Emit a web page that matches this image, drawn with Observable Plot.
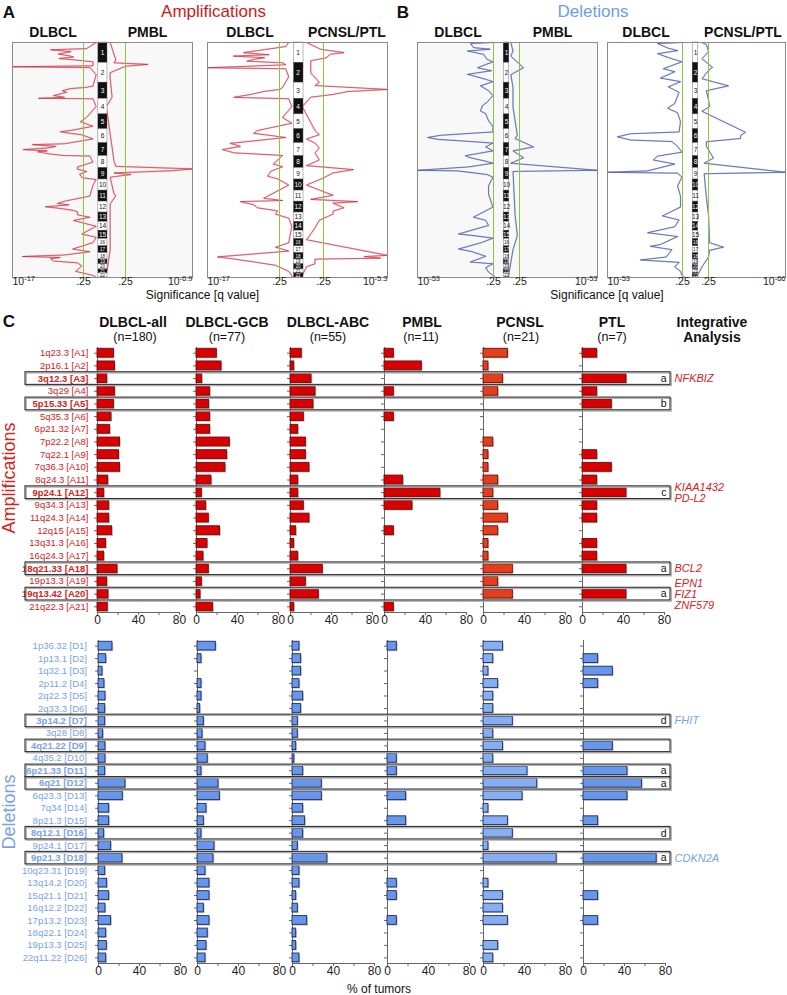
<!DOCTYPE html>
<html><head><meta charset="utf-8">
<script src="https://cdn.jsdelivr.net/npm/d3@7"></script>
<script src="https://cdn.jsdelivr.net/npm/@observablehq/plot@0.6"></script>
<style>
body{margin:0;background:#fff;}
#root{position:relative;width:787px;height:995px;overflow:hidden;background:#fff;font-family:"Liberation Sans",Arial,Helvetica,sans-serif;}
</style></head><body><div id="root"></div><script>
// ---------------- DATA ----------------
const chromNames = ["1","2","3","4","5","6","7","8","9","10","11","12","13","14","15","16","17","18","19","20","21","22"];
const chromLengths = [249,243,198,191,181,171,159,146,141,136,135,134,115,107,102,90,83,78,59,63,48,51];

// GISTIC profiles: [chromosome, fraction along chromosome, -log10(q)]
const ampA1_DLBCL = [[1,0.0,0.2],[1,0.3,0.5],[1,0.36,8.2],[1,0.45,3.5],[1,0.5,4.8],[1,0.57,6.4],[1,0.65,4],[1,0.71,2.9],[1,0.79,6.2],[1,0.86,2.5],[1,0.95,0.3],
 [2,0.15,0.3],[2,0.2,17],[2,0.24,0.4],[2,0.6,0.2],
 [3,0.2,0.3],[3,0.29,0.5],[3,0.37,3.6],[3,0.5,5.5],[3,0.6,4.5],[3,0.8,7.5],[3,0.91,5],[3,0.97,11],[3,1,0.3],
 [4,0.5,0.2],[5,0.2,0.5],[5,0.5,1.3],[5,0.8,0.3],
 [6,0.07,3.1],[6,0.19,5.9],[6,0.3,3.6],[6,0.4,1],[6,0.7,0.3],
 [7,0.05,5],[7,0.12,12.4],[7,0.25,7],[7,0.37,8.7],[7,0.5,14.5],[7,0.6,9],[7,0.67,11.2],[7,0.82,8.7],[7,0.95,5.4],[7,1,0.4],
 [8,0.5,0.3],[8,0.92,2],[9,0.1,2],[9,0.3,0.5],[9,0.55,1.5],[9,0.85,0.9],[9,1,0.2],
 [10,0.5,0.3],[11,0.5,0.4],[11,0.95,4.8],
 [12,0.16,6.6],[12,0.3,4],[12,0.47,9.4],[12,0.62,6],[12,0.8,3],[12,0.94,2],
 [13,0.24,2],[13,0.5,0.4],[13,0.85,2.9],[14,0.5,0.2],[15,0.4,1],[15,0.8,0.2],[16,0.5,0.3],
 [17,0.4,3.1],[17,0.8,0.4],[18,0.3,5],[18,0.53,14.7],[18,0.7,6],[18,0.87,8.2],
 [19,0.33,7.5],[19,0.7,2],[20,0.33,1],[21,0.5,2.4],[22,0.5,0.3],[22,1,0.2]];
const ampA1_PMBL = [[1,0.0,0.2],[1,0.86,0.35],[1,1,0.3],[2,0.08,2.7],[2,0.17,0.6],[2,0.5,0.2],[2,0.75,0.2],[3,0.9,0.25],[4,0.5,0.1],
 [8,0.43,0.3],[8,0.86,0.35],[9,0.08,6.9],[9,0.23,5.1],[9,0.43,0.3],[9,0.57,1.1],[9,0.8,0.2],[11,0.3,0.3],[11,0.45,0.35],
 [12,0.2,0.2],[17,0.5,0.2],[22,0.5,0.1],[22,1,0.1]];
const ampA2_DLBCL = [[1,0.0,0.3],[1,0.2,0.4],[1,0.5,8.8],[1,0.6,3],[1,0.67,11.1],[1,0.75,4],[1,0.83,6.5],[1,0.92,8],[1,1,0.5],
 [2,0.1,0.4],[2,0.25,17],[2,0.3,0.4],[2,0.7,0.3],
 [3,0.3,0.5],[3,0.42,0.6],[3,0.55,4.2],[3,0.73,7.2],[3,0.91,11],[3,1,0.3],
 [4,0.5,0.2],[5,0.22,0.5],[5,0.6,0.2],[6,0.1,5.6],[6,0.3,6.5],[6,0.4,3.9],[6,0.6,0.4],
 [7,0.02,11.8],[7,0.25,9.5],[7,0.5,13.6],[7,0.75,11],[7,0.95,0.5],
 [8,0.67,2],[8,0.9,0.5],[9,0.29,2.6],[9,0.71,3.3],[9,0.95,1],[10,0.5,0.3],[11,0.7,4.2],[11,0.9,0.5],
 [12,0.0,9.5],[12,0.29,6.5],[12,0.57,5.6],[12,0.85,1],[13,0.17,1.5],[13,0.6,0.3],[14,0.5,0.2],[16,0.5,0.3],
 [17,0.13,1.5],[17,0.7,0.3],[18,0.6,14.7],[18,0.85,11.8],[19,0.5,6.5],[20,0.2,1.5],[21,0.5,0.3],[22,0.5,0.2],[22,1,0.2]];
const ampA2_PCNSL = [[1,0.0,0.2],[1,0.33,0.53],[1,0.5,2.1],[1,0.58,1.1],[1,0.75,0.8],[1,0.9,0.3],[2,0.5,0.3],[2,0.98,0.5],
 [3,0.18,0.4],[3,0.42,5.3],[3,0.55,2.4],[3,0.73,1.3],[3,0.9,0.3],[4,0.5,0.1],[6,0.1,0.4],[6,0.4,0.5],[6,0.7,0.2],
 [7,0.0,0.4],[7,0.38,0.5],[7,0.75,0.4],[8,0.33,0.5],[8,0.8,0.2],[9,0.14,2.8],[9,0.43,1.3],[9,0.86,0.6],
 [10,0.5,0.2],[11,0.43,1.3],[11,0.8,0.3],[12,0.0,3.1],[12,0.14,1.3],[12,0.57,2.1],[12,0.86,1.3],
 [13,0.17,1.3],[13,0.83,0.5],[14,0.7,0.4],[16,0.1,0.2],[18,0.35,5.3],[18,0.55,3.6],[18,0.8,4.8],[18,0.95,0.4],
 [19,0.9,0.4],[20,0.5,0.2],[22,0.5,0.1],[22,1,0.1]];
const delB1_DLBCL = [[1,0.0,1],[1,0.05,16.5],[1,0.25,14.4],[1,0.33,3],[1,0.42,18.5],[1,0.58,7.5],[1,0.83,5],[1,0.95,1],
 [2,0.25,11.6],[2,0.4,2],[2,0.58,18.5],[2,0.83,6],[2,0.95,1],[3,0.2,9.6],[3,0.5,4],[3,0.8,1],
 [4,0.22,5],[4,0.44,8.2],[4,0.78,9.6],[4,0.95,6],[5,0.44,4],[5,0.8,1],
 [6,0.2,1],[6,0.44,37],[6,0.6,46],[6,0.73,39],[6,0.89,16],[6,1,1],
 [7,0.29,6],[7,0.6,1],[7,0.97,20],[8,0.14,16.5],[8,0.43,6],[8,0.6,1],[8,0.91,18],
 [9,0.2,53],[9,0.25,25.4],[9,0.57,5],[9,0.8,1],[10,0.57,4],[11,0.33,4],[12,0.5,1],
 [13,0.5,14.4],[13,0.83,6],[14,0.4,4],[15,0.4,24.7],[15,0.6,14],[15,0.9,1],[16,0.5,9],
 [17,0.4,24.7],[17,0.75,16],[18,0.5,6],[19,0.53,16.5],[19,0.9,1],[20,0.67,6],[21,0.67,4],[22,0.5,1],[22,1,0.5]];
const delB1_PMBL = [[1,0.0,0.2],[1,0.42,0.3],[1,0.67,0.2],[2,0.25,3.3],[2,0.6,0.2],[3,0.3,0.3],[4,0.55,0.3],[6,0.44,0.5],[6,0.67,0.4],
 [7,0.29,10],[7,0.6,0.3],[8,0.14,3.3],[8,0.6,0.2],[9,0.2,53],[9,0.3,0.3],[13,0.33,0.4],[15,0.6,0.5],[17,0.5,0.3],[22,0.5,0.1],[22,1,0.1]];
const delB2_DLBCL = [[1,0.0,1],[1,0.05,18],[1,0.27,11],[1,0.4,4],[1,0.55,18],[1,0.8,8],[1,0.95,1],
 [2,0.3,14],[2,0.45,6],[2,0.77,16],[2,0.95,2],[3,0.26,10.4],[3,0.6,3],[4,0.3,6],[4,0.6,11],[4,0.9,4],[5,0.5,2],
 [6,0.2,3],[6,0.33,37],[6,0.55,46],[6,0.78,37],[6,0.89,8],[7,0.25,4],[7,0.7,1],
 [8,0.0,18],[8,0.33,21],[8,0.67,6],[9,0.25,25],[9,0.37,53],[9,0.45,4],[9,0.8,1],
 [10,0.57,4],[11,0.5,2],[12,0.5,2],[13,0.36,14.6],[13,0.8,3],[14,0.55,6],[15,0.25,25],[15,0.7,4],
 [16,0.75,16],[16,1,23],[17,0.5,8],[18,0.62,12],[19,0.1,30],[19,0.6,3],[20,0.5,6],[21,0.5,2],[22,0.5,1],[22,1,0.5]];
const delB2_PCNSL = [[1,0.0,0.3],[1,0.1,0.5],[1,0.45,0.7],[1,0.8,0.3],[2,0.23,4],[2,0.38,0.7],[2,0.8,0.3],[3,0.2,17.5],[3,0.5,0.5],
 [4,0.1,0.7],[4,0.5,1.5],[4,0.8,0.3],[6,0.22,32],[6,0.44,28],[6,0.67,27.7],[6,0.9,0.5],[7,0.25,0.5],
 [8,0.17,4.8],[8,0.6,0.4],[9,0.37,66],[9,0.5,0.4],[11,0.57,0.5],[13,0.36,0.7],[16,0.5,1.5],
 [17,0.12,13.3],[17,0.6,1.5],[18,0.6,0.7],[20,0.5,0.3],[22,0.5,0.1],[22,1,0.1]];

// Panel C
const groups = ["DLBCL-all","DLBCL-GCB","DLBCL-ABC","PMBL","PCNSL","PTL"];
const groupN = ["(n=180)","(n=77)","(n=55)","(n=11)","(n=21)","(n=7)"];
const xTickValues = [0,20,40,60,80];
const xTickLabels = [0,40,80];

const ampRegions = ["1q23.3 [A1]","2p16.1 [A2]","3q12.3 [A3]","3q29 [A4]","5p15.33 [A5]","5q35.3 [A6]","6p21.32 [A7]","7p22.2 [A8]","7q22.1 [A9]","7q36.3 [A10]","8q24.3 [A11]","9p24.1 [A12]","9q34.3 [A13]","11q24.3 [A14]","12q15 [A15]","13q31.3 [A16]","16q24.3 [A17]","18q21.33 [A18]","19p13.3 [A19]","19q13.42 [A20]","21q22.3 [A21]"];
const ampDLBCLall = [16,17,9.4,17,16,13.6,12.3,22,21,22,10.4,6.5,11.4,11.4,14.3,8.4,6.5,19.5,9.4,10.7,10];
const ampGCB = [19.8,24.4,5.5,13.3,12.3,13.3,13.3,32.5,29.9,28.2,14.6,5.2,9.4,12,23,10.7,6.8,12,5.2,3.9,16.2];
const ampABC = [11,3.6,20.5,24.4,22.4,13,7.5,15,15,18.5,7.5,7.5,13,18.5,5.5,3.6,7.5,31.5,15,27.6,3.6];
const ampPMBL = [9.1,36.4,0,9.1,0,9.1,0,0,0,0,18.2,54.5,27.3,0,9.1,0,0,0,0,0,9.1];
const ampPCNSL = [23.8,4.8,19,14.3,0,0,0,9.5,4.8,4.8,14.3,9.5,14.3,23.8,14.3,4.8,4.8,28.6,14.3,28.6,0];
const ampPTL = [14.3,0,42.9,14.3,28.6,0,0,0,14.3,28.6,14.3,42.9,14.3,14.3,0,14.3,14.3,42.9,0,42.9,0];
const ampHighlight = ["3q12.3 [A3]","5p15.33 [A5]","9p24.1 [A12]","18q21.33 [A18]","19q13.42 [A20]"];
const ampLetters = ["a","b","c","a","a"];
const ampGenes = ["NFKBIZ","","KIAA1432\nPD-L2","BCL2","EPN1\nFIZ1\nZNF579"];

const delRegions = ["1p36.32 [D1]","1p13.1 [D2]","1q32.1 [D3]","2p11.2 [D4]","2q22.3 [D5]","2q33.3 [D6]","3p14.2 [D7]","3q28 [D8]","4q21.22 [D9]","4q35.2 [D10]","6p21.33 [D11]","6q21 [D12]","6q23.3 [D13]","7q34 [D14]","8p21.3 [D15]","8q12.1 [D16]","9p24.1 [D17]","9p21.3 [D18]","10q23.31 [D19]","13q14.2 [D20]","15q21.1 [D21]","16q12.2 [D22]","17p13.2 [D23]","18q22.1 [D24]","19p13.3 [D25]","22q11.22 [D26]"];
const delDLBCLall = [13.6,7.5,3.9,5.8,6.8,6.5,6.5,4.5,6.8,6.8,6.5,26.3,23.7,10.4,10.4,5.5,12.3,23.4,6.5,8.4,10.4,6.8,12.3,7.5,8.1,7.5];
const delGCB = [17.9,3.9,0,3.9,3.9,2.6,6.2,4.9,7.8,10,3.9,20.5,21.8,8.8,6.2,3.9,16.6,15.6,7.8,11.7,11.7,6.2,11.7,10,8.8,7.8];
const delABC = [6.8,8.4,8.4,6.8,10.4,8.4,5.2,5.2,3.6,1.8,10.4,28.6,28.6,10.4,12.3,10.4,5.2,34,6.8,6.8,3.6,5.2,14.3,3.6,3.6,6.8];
const delPMBL = [9.1,0,0,0,0,0,0,0,0,9.1,9.1,0,18.2,0,18.2,0,0,0,0,9.1,9.1,0,9.1,0,0,0];
const delPCNSL = [19,9.5,4.8,14.3,9.5,9.5,28.6,9.5,19,9.5,42.9,52.4,38.1,4.8,23.8,28.6,4.8,71.4,0,4.8,19,19,23.8,0,14.3,9.5];
const delPTL = [0,14.3,28.6,14.3,0,0,0,0,28.6,0,42.9,57.1,42.9,0,14.3,0,0,71.4,0,0,14.3,0,14.3,0,0,0];
const delHighlight = ["3p14.2 [D7]","4q21.22 [D9]","6p21.33 [D11]","6q21 [D12]","8q12.1 [D16]","9p21.3 [D18]"];
const delLetters = ["d","","a","a","d","a"];
const delGenes = ["FHIT","","","","","CDKN2A"];

// ---------------- RENDER ----------------
const FONT = '"Liberation Sans", Arial, Helvetica, sans-serif';
const root = document.getElementById("root");
const RED = "#d42222", BLUE = "#79a2ea";
const baseStyle = {background:"transparent", overflow:"visible", fontFamily: FONT};

function put(el, left, top){ el.style.position="absolute"; el.style.left=left+"px"; el.style.top=top+"px"; root.appendChild(el); return el; }
function label(text, cx, cy, o={}){
  const d=document.createElement("div"); d.textContent=text;
  Object.assign(d.style,{position:"absolute",left:cx+"px",top:cy+"px",whiteSpace:"pre",lineHeight:"1",
    fontFamily:FONT,fontSize:(o.size||12)+"px",fontWeight:o.bold?"bold":"normal",fontStyle:o.italic?"italic":"normal",
    color:o.color||"#111",transform:"translate(-50%,-50%)"+(o.rotate?` rotate(${o.rotate}deg)`:"")});
  root.appendChild(d);
}

// --- Panels A & B
const chromStart = d3.cumsum([0, ...chromLengths]);
const genomeTotal = d3.sum(chromLengths);
const chromTable = chromNames.map((n,i)=>({name:n, idx:i+1, start:chromStart[i], end:chromStart[i]+chromLengths[i]}));
const gpos = d => chromStart[d[0]-1] + d[1]*chromLengths[d[0]-1];

const gisticLayout = [
  {f0:12,f1:192,g0:83,c:102,g1:125,domain:[-17,-0.6,0,0.6,6.9],bg:"#f8f8f8",oddBlack:true,L:ampA1_DLBCL,R:ampA1_PMBL,color:"#c4122a",under:"#f2a3a8"},
  {f0:207,f1:387,g0:279,c:297.5,g1:323,domain:[-17,-0.6,0,0.6,5.3],bg:"#ffffff",oddBlack:false,L:ampA2_DLBCL,R:ampA2_PCNSL,color:"#c4122a",under:"#f2a3a8"},
  {f0:417,f1:597,g0:493,c:506,g1:519,domain:[-53,-0.6,0,0.6,53],bg:"#f8f8f8",oddBlack:true,L:delB1_DLBCL,R:delB1_PMBL,color:"#28358c",under:"#a9b5e3"},
  {f0:607,f1:785,g0:682,c:695,g1:708,domain:[-53,-0.6,0,0.6,66],bg:"#ffffff",oddBlack:false,L:delB2_DLBCL,R:delB2_PCNSL,color:"#28358c",under:"#a9b5e3"}
];
for (const p of gisticLayout){
  const ml=24, mr=24, mt=6, mb=29, H=270, Wf=p.f1-p.f0;
  const isBlack = d => (d.idx%2===1) === p.oddBlack;
  const lt = {v:p.domain[0], t:"10^"+p.domain[0]};
  const rt = {v:p.domain[4], t:"10^-"+p.domain[4]};
  const mid = [{v:-0.6,t:".25"},{v:0.6,t:".25"}];
  const big = chromTable.filter(d=>d.idx<=15), small = chromTable.filter(d=>d.idx>15);
  const svg = Plot.plot({
    width:Wf+ml+mr, height:H, marginLeft:ml, marginRight:mr, marginTop:mt, marginBottom:mb, style:baseStyle,
    x:{type:"linear", domain:p.domain, range:[ml, ml+p.g0-p.f0, ml+p.c-p.f0, ml+p.g1-p.f0, ml+Wf], axis:null},
    y:{domain:[0,genomeTotal], range:[mt,H-mb], axis:null},
    marks:[
      Plot.frame({fill:p.bg, stroke:"none"}),
      Plot.line(p.L,{x:d=>-d[2], y:gpos, curve:"linear", stroke:p.under, strokeWidth:1.6, strokeOpacity:0.6}),
      Plot.line(p.R,{x:d=>d[2], y:gpos, curve:"linear", stroke:p.under, strokeWidth:1.6, strokeOpacity:0.6}),
      Plot.line(p.L,{x:d=>-d[2], y:gpos, curve:"linear", stroke:p.color, strokeWidth:0.6}),
      Plot.line(p.R,{x:d=>d[2], y:gpos, curve:"linear", stroke:p.color, strokeWidth:0.6}),
      Plot.ruleX([-0.6,0.6],{stroke:"#8cc63f", strokeWidth:1}),
      Plot.rect(chromTable,{x1:-0.13, x2:0.13, y1:"start", y2:"end", fill:d=>isBlack(d)?"#111":"#fff", stroke:"#555", strokeWidth:0.4}),
      Plot.text(big,{x:0, y:d=>(d.start+d.end)/2, text:"name", fill:d=>isBlack(d)?"#fff":"#111", fontSize:6.5}),
      Plot.text(small,{x:0, y:d=>(d.start+d.end)/2, text:"name", fill:d=>isBlack(d)?"#fff":"#111", fontSize:4.6}),
      Plot.frame({stroke:"#8a8a8a"}),
      Plot.text([lt],{x:"v", text:"t", frameAnchor:"bottom", dy:7, textAnchor:"start", fontSize:10.5, fill:"#222"}),
      Plot.text(mid,{x:"v", text:"t", frameAnchor:"bottom", dy:7, textAnchor:"middle", fontSize:10.5, fill:"#222"}),
      Plot.text([rt],{x:"v", text:"t", frameAnchor:"bottom", dy:7, textAnchor:"end", fontSize:10.5, fill:"#222"})
    ]
  });
  svg.querySelectorAll("text").forEach(t=>{
    const m = t.textContent.match(/^10\^(.+)$/);
    if (m){ t.textContent="10"; const ts=document.createElementNS("http://www.w3.org/2000/svg","tspan");
      ts.setAttribute("dy","-4"); ts.setAttribute("font-size","7.5"); ts.textContent=m[1]; t.appendChild(ts); }
  });
  put(svg, p.f0-ml, 36);
}
label("A",9,12,{size:17,bold:true});
label("Amplifications",213.5,10.5,{size:17,color:"#d01818"});
label("B",403,12,{size:17,bold:true});
label("Deletions",593,10.5,{size:17,color:"#6e9eea"});
[["DLBCL",53],["PMBL",147.5],["DLBCL",250],["PCNSL/PTL",347],["DLBCL",458],["PMBL",552.5],["DLBCL",646],["PCNSL/PTL",743]]
  .forEach(([t,x])=>label(t,x,32,{size:14,bold:true}));
label("Significance [q value]",202.5,295,{size:12});
label("Significance [q value]",607,295,{size:12});

// --- Panel C
const sections = [
  {regions:ampRegions, values:[ampDLBCLall,ampGCB,ampABC,ampPMBL,ampPCNSL,ampPTL], t:347, b:612,
   axes:[97,196,289.5,384,482.5,582], gap:9, labelColor:RED, fill:["#d80000","#d80000","#d80000","#d80000","#e2401c","#d80000"], stroke:"#6e0d0d",
   hl:ampHighlight, letters:ampLetters, genes:ampGenes, geneColor:RED},
  {regions:delRegions, values:[delDLBCLall,delGCB,delABC,delPMBL,delPCNSL,delPTL], t:640, b:963,
   axes:[98,197,291.5,386.5,482.5,583], gap:11.5, labelColor:BLUE, fill:["#6796eb","#6796eb","#6796eb","#6796eb","#86aef2","#6796eb"], stroke:"#1b2b5a",
   hl:delHighlight, letters:delLetters, genes:delGenes, geneColor:BLUE}
];
for (const sec of sections){
  const mt=4, mb=28, H = mt + (sec.b-sec.t) + mb;
  const n = sec.regions.length, step = (sec.b-sec.t)/(n-0.3+0.2), inset = -0.15*step;
  const yScale = {domain:sec.regions, paddingInner:0.3, paddingOuter:0.1, round:false};
  sec.axes.forEach((x0,j)=>{
    const first = j===0, ml = first ? x0 : 10, mr = 14;
    const data = sec.regions.map((r,i)=>({region:r, value:sec.values[j][i]})).filter(d=>d.value>0);
    const marks = [
      Plot.barX(data,{x:"value", y:"region", fill:"#bdbdbd", dx:1.2, dy:1.2}),
      Plot.barX(data,{x:"value", y:"region", fill:sec.fill[j], stroke:sec.stroke, strokeWidth:0.9}),
      Plot.text(xTickLabels,{x:d=>d, frameAnchor:"bottom", dy:11, fontSize:12, fill:"#222"})
    ];
    if (first){
      marks.push(Plot.text(sec.regions.filter(r=>!sec.hl.includes(r)),{y:d=>d, frameAnchor:"left", dx:-sec.gap, textAnchor:"end", fontSize:9.5, fill:sec.labelColor}));
      marks.push(Plot.text(sec.hl,{y:d=>d, frameAnchor:"left", dx:-sec.gap, textAnchor:"end", fontSize:9.5, fontWeight:"bold", fill:sec.labelColor}));
    }
    const svg = Plot.plot({
      width: ml+82+mr, height:H, marginLeft:ml, marginRight:mr, marginTop:mt, marginBottom:mb,
      style:{...baseStyle, color:"#666"},
      x:{domain:[0,80], ticks:xTickValues, tickSize:3, tickFormat:()=>"", line:true, label:null},
      y:{...yScale, tickSize:3, tickFormat:()=>"", line:true, label:null},
      marks
    });
    put(svg, x0-ml, sec.t-mt);
  });
  const hl = sec.hl.map((r,i)=>({region:r, letter:sec.letters[i], gene:sec.genes[i]}));
  const ov = Plot.plot({
    width:787, height:H, marginLeft:25, marginRight:787-670, marginTop:mt, marginBottom:mb, style:baseStyle,
    y:{...yScale, axis:null},
    marks:[
      Plot.cell(hl,{y:"region", fill:"none", stroke:"#b0b0b0", strokeWidth:1.4, dx:1.2, dy:1.2, insetTop:inset, insetBottom:inset}),
      Plot.cell(hl,{y:"region", fill:"none", stroke:"#333", strokeWidth:1.1, insetTop:inset, insetBottom:inset}),
      Plot.text(hl,{y:"region", text:"letter", frameAnchor:"right", dx:-4, textAnchor:"end", fontSize:10.5, fill:"#111"}),
      Plot.text(hl,{y:"region", text:"gene", frameAnchor:"right", dx:4, textAnchor:"start", fontSize:11, fontStyle:"italic", lineHeight:1, fill:sec.geneColor})
    ]
  });
  put(ov, 0, sec.t-mt);
}
label("C",9,321,{size:17,bold:true});
const titleX=[133,227,328,422,520,612], nX=[135,227,328,421,521,612];
groups.forEach((g,i)=>label(g,titleX[i],321.5,{size:14,bold:true}));
groupN.forEach((g,i)=>label(g,nX[i],337,{size:12.5}));
label("Integrative",712,321.5,{size:14,bold:true});
label("Analysis",712,337,{size:14,bold:true});
label("Amplifications",9,478,{size:18,color:RED,rotate:-90});
label("Deletions",9,812,{size:18,color:BLUE,rotate:-90});
label("% of tumors",379,989,{size:12});
</script></body></html>
